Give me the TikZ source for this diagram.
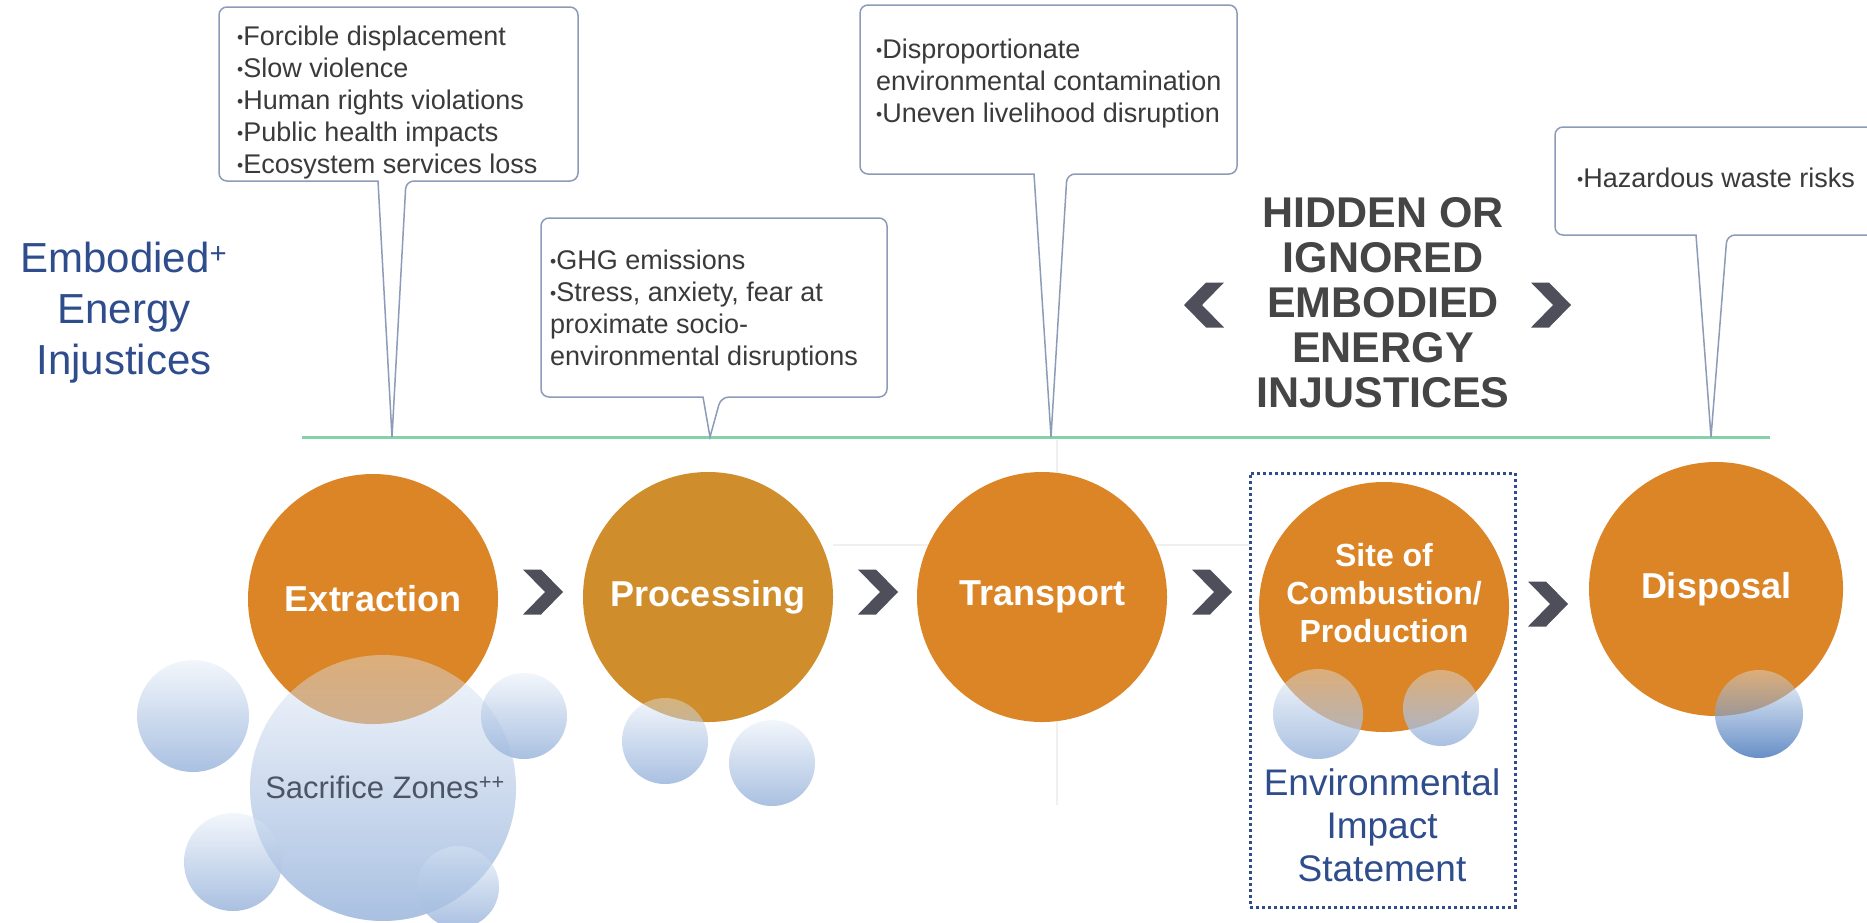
\documentclass[tikz,border=0pt]{standalone}
\usepackage{fontspec}
\setmainfont{Liberation Sans}
\usetikzlibrary{positioning,fadings}

\definecolor{stageorange}{HTML}{DB8527}
\definecolor{procorange}{HTML}{CF8D2B}
\definecolor{chevgrey}{HTML}{4E4F5A}
\definecolor{titleblue}{HTML}{2F4D8C}
\definecolor{boxline}{HTML}{8C9CB8}
\definecolor{textgrey}{HTML}{3A3A3A}
\definecolor{hiddengrey}{HTML}{454545}
\definecolor{zonegrey}{HTML}{4C5566}
\definecolor{linegreen}{HTML}{86D0AA}
\definecolor{bubtop}{HTML}{E2EDF8}
\definecolor{bubbot}{HTML}{9DB7DD}
\definecolor{bubdeep}{HTML}{4F7DBE}

\newcommand{\bdot}{\raisebox{0.1em}{\scalebox{0.65}{\textbullet}}}

\tikzset{
  stage/.style={circle, fill=stageorange, minimum size=250pt, inner sep=0pt, align=center,
    text=white, font=\bfseries\fontsize{36}{38}\selectfont},
  stagetext/.style={align=center, text=white, inner sep=0pt, font=\bfseries\fontsize{32}{38}\selectfont},
  bubble/.style={fill=bubtop, fill opacity=0.4},
  bubshade/.style={fill=bubbot, path fading=north, fill opacity=0.85},
  calloutline/.style={draw=boxline, line width=1.5pt, fill=white},
  callouttext/.style={anchor=north west, inner sep=0pt, align=left, text=textgrey,
    font=\fontsize{27}{32}\selectfont},
  guide/.style={draw=black!6, line width=1.5pt},
  eisbox/.style={draw=titleblue, line width=3pt, dash pattern=on 3pt off 3pt,
    minimum width=265pt, minimum height=434pt, inner sep=0pt},
  chev/.pic={\fill[chevgrey] (-20,-22.5) -- (-2,-22.5) -- (20,0) -- (-2,22.5) -- (-20,22.5) -- (2,0) -- cycle;},
}

\begin{document}
\begin{tikzpicture}[x=1pt,y=-1pt] % 1pt = 1px, y pointing down
  \useasboundingbox (0,0) rectangle (1867,922);
  \clip (0,0) rectangle (1867,922);
  \fill[white] (0,0) rectangle (1867,922);

  \draw[guide] (833,545) -- (1250,545); % faint grid
  \draw[guide] (1057,440) -- (1057,805);

  % timeline
  \coordinate (lineL) at (302,437);
  \coordinate (lineR) at (1770,437);
  \draw[draw=linegreen, line width=3pt] (lineL) -- (lineR);

  % callouts on the timeline
  \coordinate (tipA) at (392,437);
  \coordinate (tipB) at (710,437);
  \coordinate (tipC) at (1051,437);
  \coordinate (tipD) at (1711,437);
  \draw[calloutline] (378,181) [rounded corners=8pt] -- (219,181) -- (219,7) -- (578,7) -- (578,181) -- (406,181) [sharp corners] -- (tipA) -- cycle;
  \draw[calloutline] (703,397) [rounded corners=8pt] -- (541,397) -- (541,218) -- (887,218) -- (887,397) -- (721,397) [sharp corners] -- (tipB) -- cycle;
  \draw[calloutline] (1034,174) [rounded corners=8pt] -- (860,174) -- (860,5) -- (1237,5) -- (1237,174) -- (1067,174) [sharp corners] -- (tipC) -- cycle;
  \draw[calloutline] (1696,235) [rounded corners=8pt] -- (1555,235) -- (1555,127) -- (1900,127) -- (1900,235) -- (1727,235) [sharp corners] -- (tipD) -- cycle;

  \node[callouttext] (harmA) at (237,26) {\bdot Forcible displacement\\\bdot Slow violence\\\bdot Human rights violations\\\bdot Public health impacts\\\bdot Ecosystem services loss};
  \node[callouttext] (harmB) at (550,250) {\bdot GHG emissions\\\bdot Stress, anxiety, fear at\\proximate socio-\\environmental disruptions};
  \node[callouttext] (harmC) at (876,39) {\bdot Disproportionate\\environmental contamination\\\bdot Uneven livelihood disruption};
  \node[callouttext] (harmD) at (1577,168) {\bdot Hazardous waste risks};

  % titles
  \node[align=center, text=titleblue, font=\fontsize{42}{51}\selectfont] (title) at (124,313) {Embodied\textsuperscript{+}\\Energy\\Injustices};
  \node[align=center, text=hiddengrey, font=\bfseries\fontsize{43}{45}\selectfont] (hidden) at (1383,303) {HIDDEN OR\\IGNORED\\EMBODIED\\ENERGY\\INJUSTICES};
  \pic[xscale=-1] at (1204,305) {chev};
  \pic at (1551,305) {chev};

  % stages
  \node[stage] (extr) at (373,599) {Extraction};
  \node[stage, fill=procorange] (proc) at (708,597) {Processing};
  \node[stage] (trans) at (1042,597) {Transport};
  \node[stage] (site) at (1384,607) {};
  \node[stagetext] (sitelbl) at ([yshift=14pt]site.center) {Site of\\Combustion/\\Production};
  \node[stage, minimum size=254pt] (disp) at (1716,589) {Disposal};
  \pic at (543,592) {chev};
  \pic at (878,592) {chev};
  \pic at (1212,592) {chev};
  \pic at (1548,604) {chev};

  % bubbles
  \foreach \x/\y/\r in {383/788/133, 193/716/56, 524/716/43, 233/862/49, 458/887/41, 665/741/43, 772/763/43, 1318/714/45, 1441/708/38} {
    \fill[bubble] (\x,\y) circle[radius=\r pt];
    \fill[bubshade] (\x,\y) circle[radius=\r pt];
  }
  \fill[bubble] (1759,714) circle[radius=44pt];
  \fill[bubshade, fill=bubdeep] (1759,714) circle[radius=44pt];
  \node[text=zonegrey, font=\fontsize{31}{36}\selectfont] (zone) at (385,787) {Sacrifice Zones\textsuperscript{++}};

  % environmental impact statement
  \node[eisbox] (eis) at (1382.5,690) {};
  \node[align=center, text=titleblue, font=\fontsize{37}{43}\selectfont] (eist) at (1382,825) {Environmental\\Impact\\Statement};
\end{tikzpicture}
\end{document}
